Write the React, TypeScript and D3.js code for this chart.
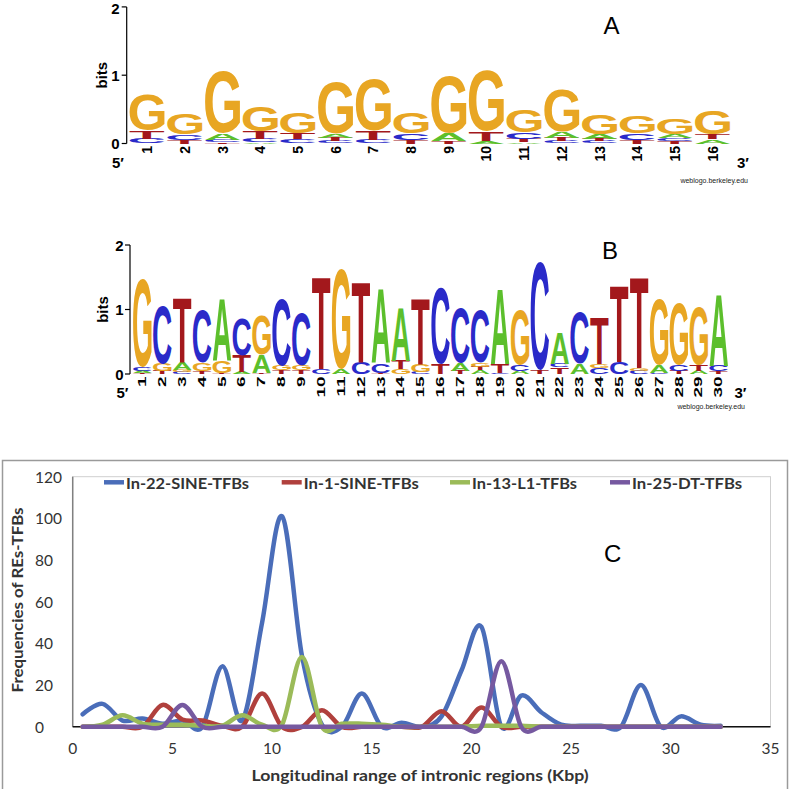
import React, { useMemo } from 'react';
import * as d3 from 'd3';

// ---------- Sequence logo data (letters listed bottom -> top, heights in bits) ----------
const LETTER_COLORS: Record<string, string> = { A: '#5CBF2C', C: '#2A2AC9', G: '#E8A623', T: '#A3181C' };

const logoAPositions = d3.range(1, 17).map(String);
const logoALetters = ['CTG', 'TCG', 'TCAG', 'ACTG', 'CTG', 'CTAG', 'CTG', 'TCG', 'TAG', 'ATG', 'ATCG', 'CTAG', 'CTAG', 'TCG', 'TCAG', 'ATG'];
const logoAHeights = [
  [0.07, 0.12, 0.52], [0.05, 0.08, 0.30], [0.02, 0.03, 0.10, 0.90], [0.02, 0.05, 0.11, 0.37],
  [0.06, 0.09, 0.31], [0.03, 0.05, 0.06, 0.76], [0.05, 0.13, 0.75], [0.05, 0.10, 0.31],
  [0.04, 0.11, 0.83], [0.04, 0.14, 0.89], [0.02, 0.05, 0.09, 0.33], [0.03, 0.05, 0.09, 0.62],
  [0.03, 0.04, 0.07, 0.28], [0.05, 0.10, 0.24], [0.04, 0.04, 0.05, 0.22], [0.06, 0.07, 0.34],
];

const logoBPositions = d3.range(1, 31).map(String);
const logoBLetters = ['TACG', 'TGC', 'CGAT', 'TGC', 'TGA', 'ATC', 'TAG', 'TGC', 'TGC', 'CT', 'AG', 'CT', 'TCA', 'GTA', 'CGT',
  'TC', 'TAC', 'ATGC', 'CTA', 'ACG', 'TC', 'TCA', 'AC', 'CGT', 'CT', 'CGT', 'CAG', 'TCG', 'ATG', 'TCA'];
const logoBHeights = [
  [0.02, 0.03, 0.05, 1.37], [0.05, 0.11, 0.89], [0.03, 0.03, 0.11, 1.0], [0.04, 0.13, 0.81], [0.02, 0.18, 0.97],
  [0.03, 0.25, 0.56], [0.02, 0.28, 0.61], [0.06, 0.07, 1.04], [0.06, 0.07, 0.81], [0.08, 1.42],
  [0.07, 1.55], [0.18, 1.25], [0.02, 0.15, 1.14], [0.07, 0.13, 0.82], [0.03, 0.11, 1.03],
  [0.15, 1.19], [0.05, 0.12, 0.86], [0.06, 0.05, 0.06, 0.82], [0.02, 0.13, 1.16], [0.05, 0.10, 0.85],
  [0.05, 1.67], [0.10, 0.06, 0.48], [0.16, 0.79], [0.09, 0.06, 0.73], [0.18, 1.18],
  [0.05, 0.04, 1.41], [0.02, 0.12, 1.03], [0.05, 0.09, 0.95], [0.05, 0.09, 0.89], [0.04, 0.09, 1.11],
];
const bitTicks = [0, 1, 2];

// ---------- Line chart data ----------
const kbp = [0.5, 1.5, 2.5, 3.5, 4.5, 5.5, 6.5, 7.5, 8.5, 9.5, 10.5, 11.5, 12.5, 13.5, 14.5, 15.5, 16.5,
  17.5, 18.5, 19.5, 20.5, 21.5, 22.5, 23.5, 24.5, 25.5, 26.5, 27.5, 28.5, 29.5, 30.5, 31.5, 32.5];
const in22SineTFBs = [6, 11, 3, 4, 1.5, 3, 0, 29, 3, 50, 101, 34, 1, 0, 16, 0, 2, 0, 5, 27, 48, 0, 15, 7, 1, 0.5, 0.5, 0, 20, 0, 5, 1, 0.5];
const in1SineTFBs = [0, 0, 0, 0, 10.5, 3.5, 3, 0.5, 0, 16, 0, 0, 8, 0, 0, 0, 0, 0, 7.5, 0, 9.3, 0, 0, 0, 0, 0, 0, 0, 0, 0, 0, 0, 0];
const in13L1TFBs = [0, 1, 5.5, 1.5, 1, 1, 0.5, 0.5, 5.5, 1, 1, 33.5, 0, 1.5, 1.5, 1, 0, 0, 0, 0, 0.5, 0.5, 0.5, 0, 0, 0, 0, 0, 0, 0, 0, 0, 0];
const in25DTTFBs = [0, 0, 0, 0, 0, 10.5, 0, 0, 0, 0, 0, 0, 0, 0, 0, 0, 0, 0, 0, 0, 0, 31.5, 0, 0, 0, 0, 0, 0, 0, 0, 0, 0, 0];
const seriesNames = ['In-22-SINE-TFBs', 'In-1-SINE-TFBs', 'In-13-L1-TFBs', 'In-25-DT-TFBs'];
const seriesValues = [in22SineTFBs, in1SineTFBs, in13L1TFBs, in25DTTFBs];
const seriesColors = ['#4A6DB9', '#B0403D', '#9BBB59', '#7659A0'];
const xTicks = [0, 5, 10, 15, 20, 25, 30, 35];
const yTicks = [0, 20, 40, 60, 80, 100, 120];

const LOGO_FONT = '"Liberation Sans", Arial, Helvetica, sans-serif';
const CHART_FONT = 'Lato, "Open Sans", sans-serif';

type Metric = { left: number; right: number; ascent: number; descent: number };

function useGlyphMetrics(): Record<string, Metric> {
  return useMemo(() => {
    const out: Record<string, Metric> = {};
    const ctx = document.createElement('canvas').getContext('2d');
    ['A', 'C', 'G', 'T'].forEach((ch) => {
      if (ctx) {
        ctx.font = `bold 100px ${LOGO_FONT}`;
        const m = ctx.measureText(ch);
        out[ch] = { left: m.actualBoundingBoxLeft, right: m.actualBoundingBoxRight, ascent: m.actualBoundingBoxAscent, descent: m.actualBoundingBoxDescent };
      } else {
        out[ch] = { left: -3, right: 70, ascent: 72, descent: 1 };
      }
    });
    return out;
  }, []);
}

type LogoProps = {
  metrics: Record<string, Metric>;
  positions: string[];
  letters: string[];
  heights: number[][];
  y0: number;
  pxPerBit: number;
  colStart: number;
  colW: number;
  axisX: number;
  tickLabelX: number;
  bitsX: number;
  numTop: number;
  numFont: number;
  numSquash: number;
  primeY: number;
  fivePrimeX: number;
  threePrimeX: number;
  creditX: number;
  creditY: number;
};

function Logo(p: LogoProps) {
  const y = d3.scaleLinear().domain([0, 2]).range([p.y0, p.y0 - 2 * p.pxPerBit]);
  const x = d3.scaleBand<string>().domain(p.positions).range([p.colStart, p.colStart + p.positions.length * p.colW]).padding(0);
  const pad = Math.max(0.6, p.colW * 0.035);
  const glyphs: React.ReactNode[] = [];
  p.positions.forEach((pos, i) => {
    let cum = 0;
    const x0 = (x(pos) as number) + pad;
    const w = x.bandwidth() - 2 * pad;
    p.letters[i].split('').forEach((ch, j) => {
      const h = p.heights[i][j];
      const yb = y(cum);
      const yt = y(cum + h);
      cum += h;
      const m = p.metrics[ch];
      const sx = w / (m.left + m.right);
      const sy = (yb - yt) / (m.ascent + m.descent);
      glyphs.push(
        <text key={`${i}-${j}`} x={0} y={0} fontSize={100} fontWeight="bold" fontFamily={LOGO_FONT} fill={LETTER_COLORS[ch]}
          transform={`translate(${x0},${yt}) scale(${sx},${sy}) translate(${m.left},${m.ascent})`}>{ch}</text>
      );
    });
  });
  const midY = y(1);
  return (
    <g>
      <line x1={p.axisX} x2={p.axisX} y1={y(2)} y2={y(0)} stroke="#000" strokeWidth={1.2} />
      {bitTicks.map((t) => (
        <g key={t}>
          <line x1={p.axisX - 5} x2={p.axisX} y1={y(t)} y2={y(t)} stroke="#000" strokeWidth={1.2} />
          <text x={p.tickLabelX} y={Math.max(y(t), 8)} textAnchor="end" dominantBaseline="central" fontSize={15} fontWeight="bold" fontFamily={LOGO_FONT}>{t}</text>
        </g>
      ))}
      <text transform={`translate(${p.bitsX},${midY}) rotate(-90)`} textAnchor="middle" dominantBaseline="central" fontSize={15} fontWeight="bold" fontFamily={LOGO_FONT}>bits</text>
      {glyphs}
      {p.positions.map((pos) => (
        <text key={pos} transform={`translate(${(x(pos) as number) + x.bandwidth() / 2},${p.numTop}) rotate(-90) scale(1,${p.numSquash})`}
          textAnchor="end" dominantBaseline="central" fontSize={p.numFont} fontWeight="bold" fontFamily={LOGO_FONT}>{pos}</text>
      ))}
      <text x={p.fivePrimeX} y={p.primeY} textAnchor="middle" dominantBaseline="central" fontSize={15} fontWeight="bold" fontFamily={LOGO_FONT}>5′</text>
      <text x={p.threePrimeX} y={p.primeY} textAnchor="middle" dominantBaseline="central" fontSize={15} fontWeight="bold" fontFamily={LOGO_FONT}>3′</text>
      <text x={p.creditX} y={p.creditY} textAnchor="end" dominantBaseline="central" fontSize={7} fontFamily={LOGO_FONT} fill="#222">weblogo.berkeley.edu</text>
    </g>
  );
}

function LineChart() {
  const x = d3.scaleLinear().domain([0, 35]).range([72.7, 770.5]);
  const y = d3.scaleLinear().domain([0, 120]).range([726.8, 476.7]);
  const line = d3.line<[number, number]>().x((d) => x(d[0])).y((d) => y(d[1])).curve(d3.curveCardinal.tension(0));
  const legendX = [104, 281.7, 450, 610];
  const legendW = [123, 115, 105, 110];
  const legendY = 482.3;
  return (
    <g fontFamily={CHART_FONT}>
      <rect x={2.5} y={460.5} width={785} height={330} fill="#fff" stroke="#9a9a9a" strokeWidth={1.5} />
      <rect x={x(0)} y={y(120)} width={x(35) - x(0)} height={y(0) - y(120)} fill="none" stroke="#cfcfcf" strokeWidth={1} />
      <line x1={x(0)} x2={x(0)} y1={y(120)} y2={y(0)} stroke="#808080" strokeWidth={1.5} />
      <line x1={x(0)} x2={x(35)} y1={y(0)} y2={y(0)} stroke="#111" strokeWidth={1.4} />
      {yTicks.map((t) => (
        <text key={t} x={35} y={y(t)} dominantBaseline="central" fontSize={15.5} fill="#333">{t}</text>
      ))}
      {xTicks.map((t) => (
        <text key={t} x={x(t)} y={748} textAnchor="middle" dominantBaseline="central" fontSize={15.5} fill="#333">{t}</text>
      ))}
      {seriesValues.map((vals, si) => (
        <path key={si} d={line(kbp.map((k, i) => [k, vals[i]] as [number, number])) || ''} fill="none"
          stroke={seriesColors[si]} strokeWidth={4.5} strokeLinejoin="round" strokeLinecap="round" />
      ))}
      {seriesNames.map((n, i) => (
        <g key={n}>
          <line x1={legendX[i]} x2={legendX[i] + 20} y1={legendY} y2={legendY} stroke={seriesColors[i]} strokeWidth={4.5} />
          <text x={legendX[i] + 22} y={legendY} dominantBaseline="central" fontSize={16} fontWeight="bold" fill="#333"
            textLength={legendW[i]} lengthAdjust="spacingAndGlyphs">{n}</text>
        </g>
      ))}
      <text transform={`translate(16,600) rotate(-90)`} textAnchor="middle" dominantBaseline="central" fontSize={16} fontWeight="bold" fill="#333"
        textLength={185} lengthAdjust="spacingAndGlyphs">Frequencies of REs-TFBs</text>
      <text x={420} y={781} textAnchor="middle" fontSize={16} fontWeight="bold" fill="#333" textLength={337} lengthAdjust="spacingAndGlyphs">Longitudinal range of intronic regions (Kbp)</text>
      <text x={612.7} y={553.3} textAnchor="middle" dominantBaseline="central" fontSize={24} fontFamily={LOGO_FONT}>C</text>
    </g>
  );
}

export default function App() {
  const metrics = useGlyphMetrics();
  return (
    <svg width={790} height={789} viewBox="0 0 790 789" style={{ position: 'absolute', left: 0, top: 0, display: 'block', background: '#fff' }}>
      <rect x={0} y={0} width={790} height={789} fill="#fff" />
      <Logo metrics={metrics} positions={logoAPositions} letters={logoALetters} heights={logoAHeights}
        y0={143.5} pxPerBit={68.3} colStart={128.3} colW={37.7} axisX={126.7} tickLabelX={119.5} bitsX={101}
        numTop={146} numFont={14} numSquash={1} primeY={162.5} fivePrimeX={118} threePrimeX={743}
        creditX={748} creditY={180} />
      <text x={611.5} y={25} textAnchor="middle" dominantBaseline="central" fontSize={24} fontFamily={LOGO_FONT}>A</text>
      <Logo metrics={metrics} positions={logoBPositions} letters={logoBLetters} heights={logoBHeights}
        y0={374} pxPerBit={64.5} colStart={132.5} colW={19.87} axisX={130} tickLabelX={123.5} bitsX={102.5}
        numTop={376.5} numFont={19} numSquash={0.54} primeY={392.5} fivePrimeX={122.5} threePrimeX={740.5}
        creditX={745} creditY={406.7} />
      <text x={610} y={250} textAnchor="middle" dominantBaseline="central" fontSize={24} fontFamily={LOGO_FONT}>B</text>
      <LineChart />
    </svg>
  );
}
